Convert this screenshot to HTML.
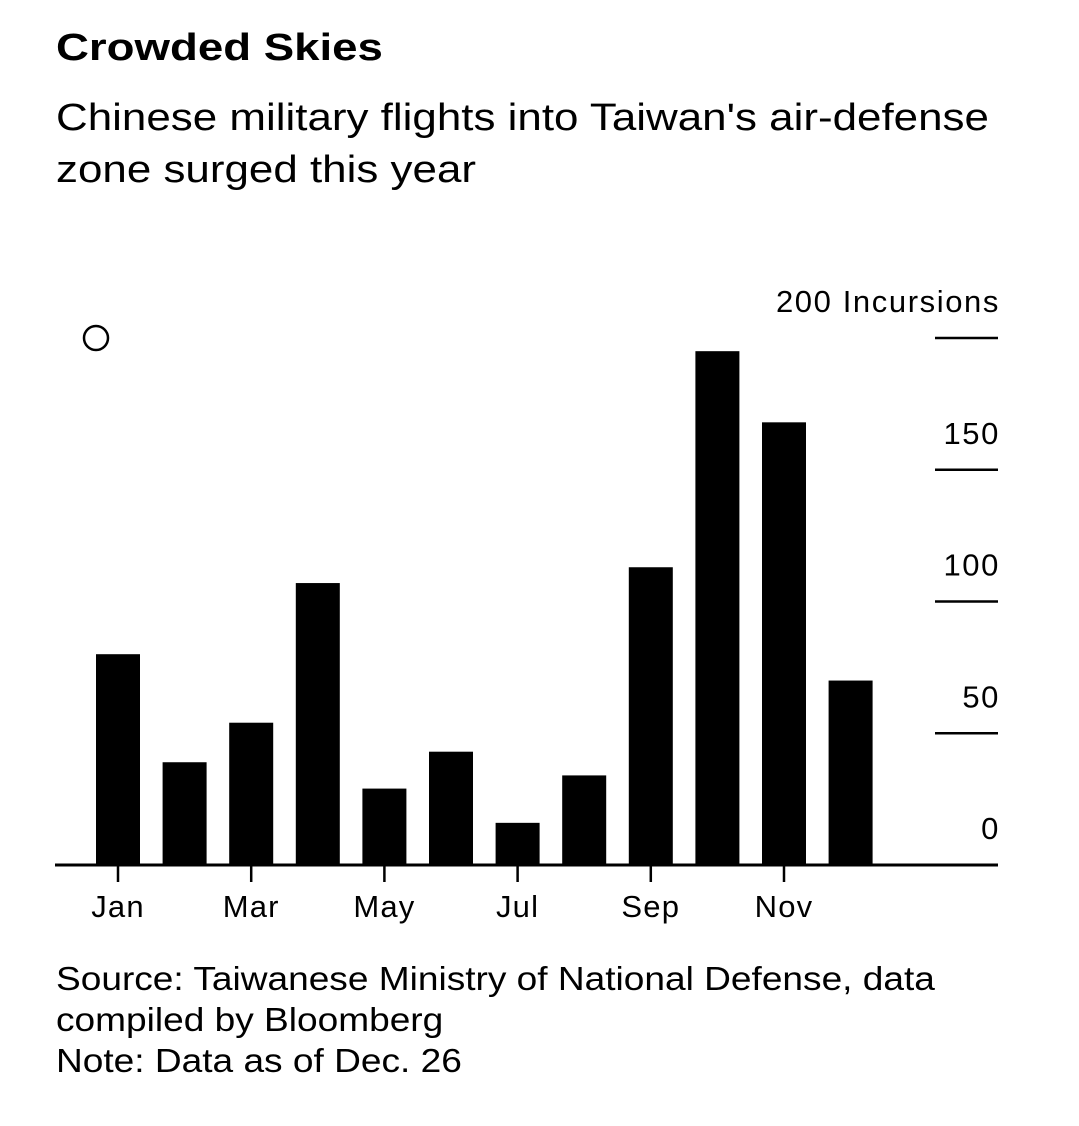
<!DOCTYPE html>
<html><head><meta charset="utf-8"><style>
body{margin:0;background:#fff;width:1079px;height:1126px;overflow:hidden;font-family:"Liberation Sans",sans-serif;color:#000}
.t{position:absolute;left:56px;white-space:nowrap;transform-origin:0 0}
</style></head><body>
<div class="t" style="top:27px;font-size:38px;font-weight:bold;transform:scaleX(1.2)">Crowded Skies</div>
<div class="t" style="top:92px;font-size:38px;line-height:52px;transform:scaleX(1.156)">Chinese military flights into Taiwan's air-defense<br>zone surged this year</div>
<svg id="c" style="position:absolute;left:0;top:0" width="1079" height="1126"></svg>
<div class="t" style="top:958px;font-size:33px;line-height:41px;transform:scaleX(1.123)">Source: Taiwanese Ministry of National Defense, data<br>compiled by Bloomberg<br>Note: Data as of Dec. 26</div>
<script>
const months=["Jan","Feb","Mar","Apr","May","Jun","Jul","Aug","Sep","Oct","Nov","Dec"];
const values=[80,39,54,107,29,43,16,34,113,195,168,70];
const yTicks=[0,50,100,150,200];
const xLabels=["Jan","Mar","May","Jul","Sep","Nov"];
const svg=document.getElementById('c');const NS="http://www.w3.org/2000/svg";
const y=v=>865-v*2.635;const xc=i=>118+i*66.6;
function mk(t,a,txt){const e=document.createElementNS(NS,t);for(const k in a)e.setAttribute(k,a[k]);if(txt!=null)e.textContent=txt;svg.appendChild(e);return e;}
values.forEach((v,i)=>{const r=mk('rect',{x:xc(i)-22,y:y(v),width:44,height:865-y(v),fill:'#000'});

});
yTicks.forEach(t=>{if(t>0){const l=mk('line',{x1:935,x2:998,y1:y(t),y2:y(t),stroke:'#000','stroke-width':2.5});

}
const tx=mk('text',{x:1000,y:y(t)-26,'text-anchor':'end','font-size':31,'letter-spacing':1.6},t===200?'200 Incursions':String(t));

});
const b=mk('line',{x1:55,x2:998,y1:865,y2:865,stroke:'#000','stroke-width':3});


xLabels.forEach(m=>{const i=months.indexOf(m);
const tk=mk('line',{x1:xc(i),x2:xc(i),y1:865,y2:882,stroke:'#000','stroke-width':2.5});


const tx=mk('text',{x:xc(i),y:917,'text-anchor':'middle','font-size':31,'letter-spacing':1.2},m);

});
const c=mk('circle',{cx:96,cy:338,r:12,fill:'none',stroke:'#000','stroke-width':2.5});


</script>
</body></html>
